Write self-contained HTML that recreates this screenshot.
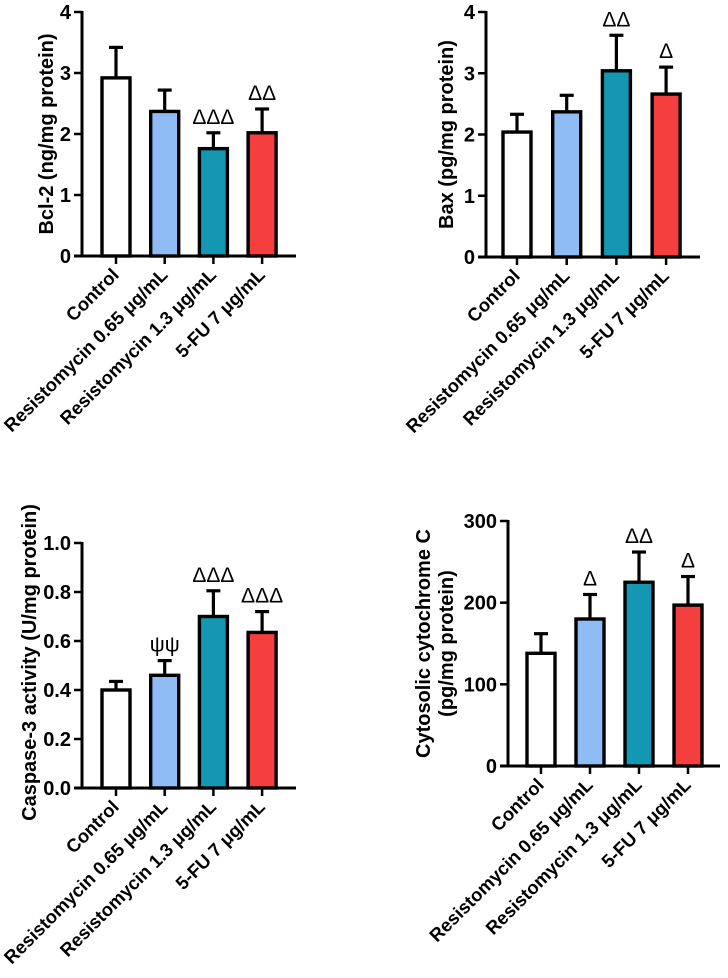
<!DOCTYPE html>
<html><head><meta charset="utf-8"><style>
body{margin:0;background:#fff;width:728px;height:978px;overflow:hidden}
svg{display:block;font-family:"Liberation Sans",Arial,sans-serif}
</style></head><body>
<svg id="fig" width="728" height="978"></svg>
<script>
const categories=["Control","Resistomycin 0.65 \u03bcg/mL","Resistomycin 1.3 \u03bcg/mL","5-FU 7 \u03bcg/mL"];
const colors=["#ffffff","#8fbcf5","#1497b2","#f53f3f"];
const bcl2Values=[2.92,2.37,1.76,2.02];
const bcl2Err=[3.42,2.72,2.02,2.41];
const bcl2Marks=["","","\u0394\u0394\u0394","\u0394\u0394"];
const bcl2Ticks=[0,1,2,3,4];
const baxValues=[2.04,2.37,3.04,2.66];
const baxErr=[2.33,2.64,3.62,3.10];
const baxMarks=["","","\u0394\u0394","\u0394"];
const baxTicks=[0,1,2,3,4];
const caspValues=[0.40,0.46,0.70,0.635];
const caspErr=[0.435,0.52,0.805,0.72];
const caspMarks=["","\u03c8\u03c8","\u0394\u0394\u0394","\u0394\u0394\u0394"];
const caspTicks=["0.0","0.2","0.4","0.6","0.8","1.0"];
const cytoValues=[138,180,225,197];
const cytoErr=[162,210,262,232];
const cytoMarks=["","\u0394","\u0394\u0394","\u0394"];
const cytoTicks=[0,100,200,300];

const NS="http://www.w3.org/2000/svg";
const fig=document.getElementById('fig');
function mk(tag,attrs,parent,text){const e=document.createElementNS(NS,tag);for(const k in attrs)e.setAttribute(k,attrs[k]);if(text!==undefined)e.textContent=text;parent.appendChild(e);return e;}

function chart(o){
  const g=mk('g',{},fig);
  
  
  const ymax=Number(o.ticks[o.ticks.length-1]);
  const y=v=>o.y0-(v/ymax)*(o.y0-o.yTop);
  const step=o.step, bw=28;
  const xc=i=>o.x0+o.first+i*step;
  o.values.forEach((v,i)=>{
    const top=y(v);
    const eb=mk('line',{x1:xc(i),x2:xc(i),y1:top,y2:y(o.err[i]),stroke:'#000','stroke-width':3.2},g);
    
    
    const cap=mk('line',{x1:xc(i)-7,x2:xc(i)+7,y1:y(o.err[i]),y2:y(o.err[i]),stroke:'#000','stroke-width':3.2},g);
    
    
    const r=mk('rect',{x:xc(i)-bw/2,y:top,width:bw,height:o.y0-top,fill:colors[i],stroke:'#000','stroke-width':3.4},g);
    
    
    if(o.marks[i]){
      const m=mk('text',{x:xc(i),y:y(o.err[i])-9,'text-anchor':'middle','font-size':21,fill:'#000'},g,o.marks[i]);
      
      
    }
    const tk=mk('line',{x1:xc(i),x2:xc(i),y1:o.y0,y2:o.y0+8,stroke:'#000','stroke-width':2.5},g);
    
    
    const lx=xc(i)+4, ly=o.y0+20;
    const lt=mk('text',{x:lx,y:ly,'text-anchor':'end','font-size':18.5,'font-weight':'bold',transform:`rotate(-45 ${lx} ${ly})`},g,categories[i]);
    
    
  });
  const ya=mk('line',{x1:o.x0,x2:o.x0,y1:o.yTop-1,y2:o.y0+1.5,stroke:'#000','stroke-width':3},g);
  
  
  const xa=mk('line',{x1:o.x0-8,x2:o.xEnd,y1:o.y0,y2:o.y0,stroke:'#000','stroke-width':3},g);
  
  
  o.ticks.forEach(t=>{
    const yy=y(Number(t));
    const tl=mk('line',{x1:o.x0-8,x2:o.x0,y1:yy,y2:yy,stroke:'#000','stroke-width':2.5},g);
    
    
    const tt=mk('text',{x:o.x0-11,y:yy+7,'text-anchor':'end','font-size':20,'font-weight':'bold'},g,String(t));
    
    
  });
  const cy=(o.y0+o.yTop)/2+o.titleShift;
  o.title.forEach((line,k)=>{
    const tx=o.titleX[k];
    const ti=mk('text',{x:tx,y:cy,'text-anchor':'middle','font-size':20,'font-weight':'bold',transform:`rotate(-90 ${tx} ${cy})`},g,line);
    
    
  });
}
chart({name:'bcl2-chart',x0:82,xEnd:296,y0:256,yTop:12,first:34,step:48.7,values:bcl2Values,err:bcl2Err,marks:bcl2Marks,ticks:bcl2Ticks,title:["Bcl-2 (ng/mg protein)"],titleX:[53],titleShift:0});
chart({name:'bax-chart',x0:486,xEnd:700,y0:257,yTop:12,first:31,step:49.7,values:baxValues,err:baxErr,marks:baxMarks,ticks:baxTicks,title:["Bax (pg/mg protein)"],titleX:[453],titleShift:0});
chart({name:'caspase3-chart',x0:82,xEnd:296,y0:788,yTop:543,first:34,step:48.7,values:caspValues,err:caspErr,marks:caspMarks,ticks:caspTicks,title:["Caspase-3 activity (U/mg protein)"],titleX:[36],titleShift:-3});
chart({name:'cytochrome-c-chart',x0:508,xEnd:720,y0:766,yTop:521,first:33,step:49,values:cytoValues,err:cytoErr,marks:cytoMarks,ticks:cytoTicks,title:["Cytosolic cytochrome C","(pg/mg protein)"],titleX:[430,453],titleShift:0});
</script>
</body></html>
